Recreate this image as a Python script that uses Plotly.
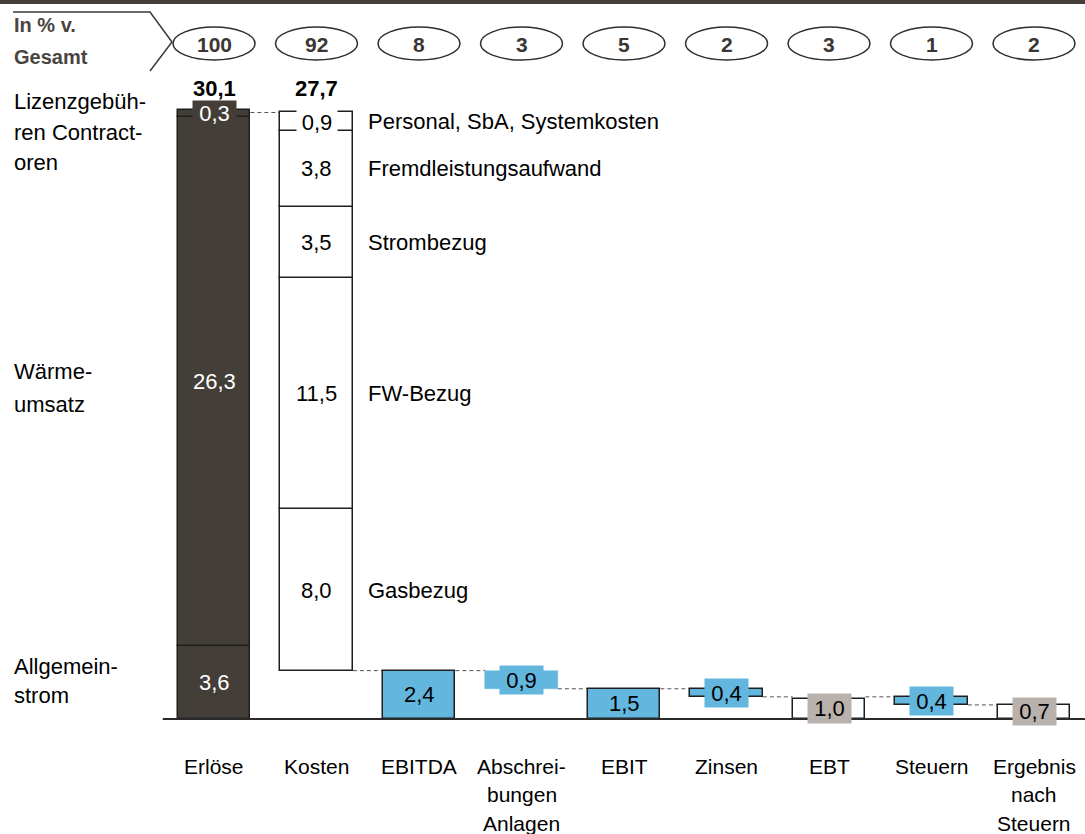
import plotly.graph_objects as go

# --- data -------------------------------------------------------------
categories = ["Erlöse", "Kosten", "EBITDA", "Abschrei-<br>bungen<br>Anlagen", "EBIT",
              "Zinsen", "EBT", "Steuern", "Ergebnis<br>nach<br>Steuern"]
share_of_total = [100, 92, 8, 3, 5, 2, 3, 1, 2]

revenue_names = ["Allgemein-<br>strom", "Wärme-<br>umsatz", "Lizenzgebüh-<br>ren Contract-<br>oren"]
revenue_values = [3.6, 26.3, 0.3]
revenue_total = 30.1

cost_names = ["Gasbezug", "FW-Bezug", "Strombezug", "Fremdleistungsaufwand",
              "Personal, SbA, Systemkosten"]
cost_values = [8.0, 11.5, 3.5, 3.8, 0.9]
cost_total = 27.7

ebitda = 2.4
depreciation = 0.9
ebit = 1.5
interest = 0.4
ebt = 1.0
taxes = 0.4
net_income = 0.7

# --- style ------------------------------------------------------------
W, H = 1085, 834
FONT = "Liberation Sans, Arial, sans-serif"
FS = 22
DARK = "#443e39"
BLUE = "#63b7df"
GREY = "#b8b1ac"
OUTLINE = "#1e1e1e"
BAR_W = 0.71
PX_PER_UNIT = 20.15
BASE_PX = 719
X_STEP = 102.5
X0_PX = 214


def fmt(v):
    return f"{v:.1f}".replace(".", ",")


def py(px):
    """pixel row -> paper y"""
    return 1 - px / H


def px_x(px):
    return px / W


fig = go.Figure()
annotations = []
shapes = []


def add_bar(x, base, height, fill, line_color=OUTLINE, line_width=1.5):
    fig.add_trace(go.Bar(x=[x], y=[height], base=[base], width=BAR_W,
                         marker=dict(color=fill, line=dict(color=line_color, width=line_width)),
                         hoverinfo="skip", showlegend=False))


def add_label(x, y, text, color="#000", bg=None, w=None, h=None, size=FS, bold=False, yshift=0):
    a = dict(x=x, y=y, xref="x", yref="y", text=f"<b>{text}</b>" if bold else text,
             showarrow=False, font=dict(family=FONT, size=size, color=color),
             xanchor="center", yanchor="middle", yshift=yshift)
    if bg:
        a.update(bgcolor=bg, borderpad=0)
    if w:
        a.update(width=w)
    if h:
        a.update(height=h)
    annotations.append(a)


# Erlöse stack
base = 0.0
label_rows = [(666, 695), (371, 404), (101, 132, 162)]
for val, name, rows in zip(revenue_values, revenue_names, label_rows):
    add_bar(0, base, val, DARK)
    mid = base + val / 2
    if val < 1:
        add_label(0, mid, fmt(val), color="white", bg=DARK, w=43, h=24)
    else:
        add_label(0, mid, fmt(val), color="white")
    for line, row in zip(name.split("<br>"), rows):
        annotations.append(dict(x=px_x(12), y=py(row), xref="paper", yref="paper", text=line,
                                showarrow=False, xanchor="left", yanchor="middle",
                                font=dict(family=FONT, size=FS, color="#000")))
    base += val
add_label(0, revenue_total, fmt(revenue_total), bold=True, yshift=24)

# Kosten stack (floating above EBITDA)
base = ebitda
for val, name in zip(cost_values, cost_names):
    add_bar(1, base, val, "white")
    mid = base + val / 2
    if val < 1:
        add_label(1, mid, fmt(val), bg="white", w=40, h=26)
    else:
        add_label(1, mid, fmt(val))
    annotations.append(dict(x=1 + 0.5, y=mid, xref="x", yref="y", text=name, showarrow=False,
                            xanchor="left", yanchor="middle", xshift=-2,
                            font=dict(family=FONT, size=FS, color="#000")))
    base += val
add_label(1, ebitda + cost_total, fmt(cost_total), bold=True, yshift=24)

# EBITDA
add_bar(2, 0, ebitda, BLUE)
add_label(2, ebitda / 2, fmt(ebitda))
# Abschreibungen
add_bar(3, ebit, depreciation, BLUE, line_color=BLUE, line_width=0.5)
add_label(3, ebit + depreciation / 2, fmt(depreciation), bg=BLUE, w=43, h=28)
# EBIT
add_bar(4, 0, ebit, BLUE)
add_label(4, ebit / 2, fmt(ebit))
# Zinsen
add_bar(5, ebit - interest, interest, BLUE)
add_label(5, ebit - interest / 2, fmt(interest), bg=BLUE, w=43, h=28)
# EBT
add_bar(6, 0, ebt, "white")
add_label(6, ebt / 2, fmt(ebt), bg=GREY, w=43, h=29)
# Steuern
add_bar(7, net_income, taxes, BLUE)
add_label(7, net_income + taxes / 2, fmt(taxes), bg=BLUE, w=43, h=28)
# Ergebnis nach Steuern
add_bar(8, 0, net_income, "white")
add_label(8, net_income / 2, fmt(net_income), bg=GREY, w=43, h=27)

# dashed connectors between neighbouring bars
half = BAR_W / 2
connector_levels = [revenue_total, ebitda, ebitda, ebit, ebit, ebit - interest,
                    net_income + taxes, net_income]
for i, lvl in enumerate(connector_levels):
    shapes.append(dict(type="line", xref="x", yref="y", x0=i + half, x1=i + 1 - half,
                       y0=lvl, y1=lvl, layer="below",
                       line=dict(color="#555", width=1, dash="4px,3px")))

# baseline
shapes.append(dict(type="line", xref="x", yref="y", x0=-0.5, x1=8.6, y0=0, y1=0,
                   line=dict(color="#2a2a2a", width=2)))

# category labels below the axis
for i, cat in enumerate(categories):
    for k, line in enumerate(cat.split("<br>")):
        annotations.append(dict(x=i, y=py(766 + 28.5 * k), xref="x", yref="paper", text=line,
                                showarrow=False, xanchor="center", yanchor="middle",
                                font=dict(family=FONT, size=FS - 1, color="#000")))

# share-of-total ovals
for i, s in enumerate(share_of_total):
    shapes.append(dict(type="circle", xref="x", yref="paper", x0=i - 0.4, x1=i + 0.4,
                       y0=py(60), y1=py(27), line=dict(color="#2e2e2e", width=1.5)))
    annotations.append(dict(x=i, y=py(44), xref="x", yref="paper", text=f"<b>{s}</b>",
                            showarrow=False, xanchor="center", yanchor="middle",
                            font=dict(family=FONT, size=21, color="#3b3632")))

# header chevron and text
chev = (f"M {px_x(13)},{py(12)} L {px_x(150)},{py(12)} "
        f"L {px_x(172)},{py(42)} L {px_x(150)},{py(71)}")
shapes.append(dict(type="path", xref="paper", yref="paper", path=chev,
                   line=dict(color="#3a3a3a", width=1.5)))
for txt, row in [("In % v.", 25), ("Gesamt", 57)]:
    annotations.append(dict(x=px_x(12), y=py(row), xref="paper", yref="paper",
                            text=f"<b>{txt}</b>", showarrow=False, xanchor="left",
                            yanchor="middle", font=dict(family=FONT, size=20, color="#4a4540")))

# top rule
shapes.append(dict(type="rect", xref="paper", yref="paper", x0=0, x1=1, y0=py(4), y1=1,
                   fillcolor="#45403c", line=dict(width=0)))

fig.update_layout(
    width=W, height=H, margin=dict(l=0, r=0, t=0, b=0),
    paper_bgcolor="white", plot_bgcolor="white",
    barmode="overlay", bargap=0,
    xaxis=dict(range=[-X0_PX / X_STEP, (W - X0_PX) / X_STEP], visible=False, fixedrange=True),
    yaxis=dict(range=[-(H - BASE_PX) / PX_PER_UNIT, BASE_PX / PX_PER_UNIT], visible=False,
               fixedrange=True),
    shapes=shapes, annotations=annotations, showlegend=False,
)

fig.write_html("out.html")
